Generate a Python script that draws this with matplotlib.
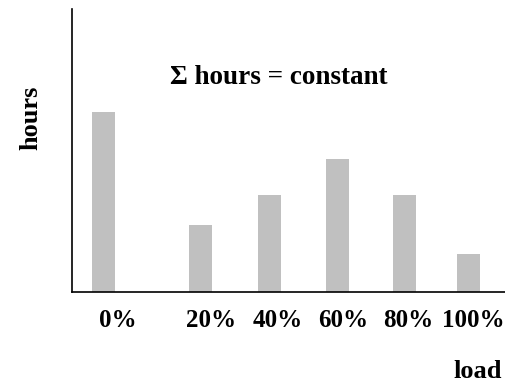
import matplotlib
matplotlib.use("Agg")
import matplotlib.pyplot as plt

# load categories and relative hours (no scale shown on the chart)
loads = ["0%", "20%", "40%", "60%", "80%", "100%"]
hours = [180, 67, 97, 133, 97, 38]

plt.rcParams["font.family"] = ["Liberation Serif", "DejaVu Serif"]
plt.rcParams["font.weight"] = "bold"

fig = plt.figure(figsize=(5.06, 3.84), dpi=100)
ax = fig.add_axes([0.1423, 0.2396, 0.8577, 0.737])

# bar slots: a wider gap after the 0% bar, as in the original
bar_x = [0, 1.45, 2.46, 3.47, 4.46, 5.42]
label_x = [0.22, 1.6, 2.59, 3.56, 4.52, 5.49]

ax.bar(bar_x, hours, width=0.34, color="#c0c0c0", zorder=1)

ax.set_xlim(-0.46, 5.97)
ax.set_ylim(0, 283)
ax.spines["top"].set_visible(False)
ax.spines["right"].set_visible(False)
ax.spines["left"].set_linewidth(1.2)
ax.spines["bottom"].set_linewidth(1.2)
ax.set_yticks([])
ax.set_xticks(label_x, loads)
ax.tick_params(axis="x", length=0, pad=12, labelsize=18)

fig.text(0.061, 0.693, "hours", rotation=90, ha="center", va="center",
         fontsize=19, fontweight="bold")
fig.text(0.551, 0.797, "\u03a3 hours = constant", ha="center", va="center",
         fontsize=19.5, fontweight="bold")
fig.text(0.945, 0.033, "load", ha="center", va="center",
         fontsize=19, fontweight="bold")

fig.savefig("out.png", dpi=100)
